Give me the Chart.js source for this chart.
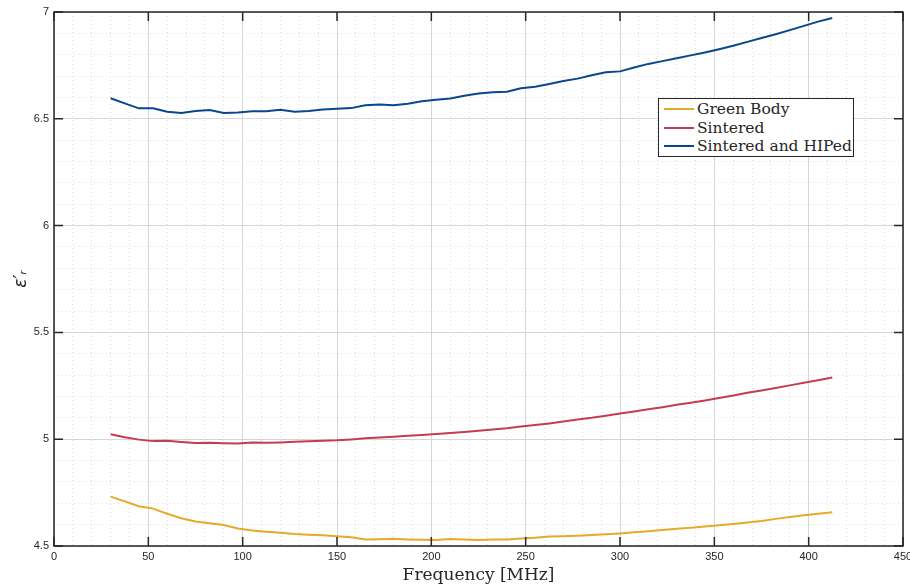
<!DOCTYPE html>
<html>
<head>
<meta charset="utf-8">
<script src="https://cdn.jsdelivr.net/npm/chart.js@4/dist/chart.umd.min.js"></script>
<style>
  body { margin: 0; background: #fff; }
  #wrap { position: relative; width: 910px; height: 586px; }
  #legend {
    position: absolute; left: 658px; top: 98px; width: 196px; height: 59px;
    border: 1px solid #262626; background: #fff; box-sizing: border-box;
    font-family: "DejaVu Serif", serif; font-size: 15.5px; color: #262626;
    padding-top: 1px;
  }
  #legend .row { display: flex; align-items: center; height: 18.5px; }
  #legend .swatch { width: 30px; height: 0; border-top: 2px solid; margin: 0 3px 0 5px; }
</style>
</head>
<body>
<div id="wrap">
  <canvas id="myChart" width="910" height="586"></canvas>
  <div id="legend"></div>
</div>
<script>
// frequency points [MHz]
var freq = [30, 37.5, 45, 52.5, 60, 67.5, 75, 82.5, 90, 97.5, 105, 112.5, 120, 127.5, 135, 142.5,
  150, 157.5, 165, 172.5, 180, 187.5, 195, 202.5, 210, 217.5, 225, 232.5, 240, 247.5, 255, 262.5,
  270, 277.5, 285, 292.5, 300, 307.5, 315, 322.5, 330, 337.5, 345, 352.5, 360, 367.5, 375, 382.5,
  390, 397.5, 405, 412.5];

var greenBody = [4.731, 4.709, 4.686, 4.675, 4.651, 4.630, 4.615, 4.607, 4.598, 4.582, 4.573, 4.567,
  4.562, 4.556, 4.553, 4.550, 4.546, 4.541, 4.531, 4.532, 4.534, 4.531, 4.529, 4.528, 4.533, 4.531,
  4.528, 4.531, 4.530, 4.535, 4.539, 4.544, 4.546, 4.548, 4.551, 4.555, 4.559, 4.564, 4.569, 4.575,
  4.581, 4.586, 4.591, 4.597, 4.603, 4.610, 4.617, 4.627, 4.636, 4.644, 4.651, 4.658];

var sintered = [5.023, 5.009, 4.998, 4.991, 4.993, 4.987, 4.982, 4.983, 4.981, 4.980, 4.984, 4.983,
  4.985, 4.988, 4.990, 4.993, 4.995, 4.999, 5.004, 5.008, 5.012, 5.016, 5.020, 5.024, 5.029, 5.034,
  5.039, 5.045, 5.051, 5.059, 5.066, 5.074, 5.083, 5.092, 5.100, 5.110, 5.120, 5.130, 5.140, 5.150,
  5.161, 5.171, 5.181, 5.193, 5.205, 5.217, 5.228, 5.240, 5.252, 5.264, 5.276, 5.289];

var hiped = [6.596, 6.572, 6.549, 6.549, 6.533, 6.527, 6.537, 6.541, 6.527, 6.529, 6.535, 6.535,
  6.542, 6.533, 6.537, 6.543, 6.547, 6.550, 6.563, 6.567, 6.564, 6.571, 6.582, 6.589, 6.595, 6.608,
  6.618, 6.624, 6.627, 6.643, 6.650, 6.663, 6.677, 6.688, 6.704, 6.718, 6.722, 6.740, 6.757, 6.770,
  6.783, 6.797, 6.810, 6.826, 6.842, 6.860, 6.878, 6.896, 6.915, 6.935, 6.955, 6.972];

var seriesNames = ['Green Body', 'Sintered', 'Sintered and HIPed'];
var seriesColors = ['#E6A92A', '#C43C54', '#0A468C'];
var xMajor = 50, yMajor = 0.5;

function toPoints(ys) {
    return ys.map((y, i) => ({ x: freq[i], y: y }));
}
function isMajor(v, step) {
    var r = v / step;
    return Math.abs(r - Math.round(r)) < 1e-6;
}

// MATLAB-style box with inward ticks
var boxPlugin = {
    id: 'box',
    afterDraw(chart) {
        var c = chart.ctx, a = chart.chartArea;
        var xs = chart.scales.x, ys = chart.scales.y;
        c.save();
        c.strokeStyle = '#262626';
        c.lineWidth = 1.5;
        c.beginPath();
        c.rect(a.left, a.top, a.right - a.left, a.bottom - a.top);
        c.stroke();
        c.beginPath();
        for (var v = 0; v <= 450; v += xMajor) {
            var px = xs.getPixelForValue(v);
            c.moveTo(px, a.bottom); c.lineTo(px, a.bottom - 9);
            c.moveTo(px, a.top); c.lineTo(px, a.top + 9);
        }
        for (var k = 0; k <= 5; k++) {
            var py = ys.getPixelForValue(4.5 + k * yMajor);
            c.moveTo(a.left, py); c.lineTo(a.left + 9, py);
            c.moveTo(a.right, py); c.lineTo(a.right - 9, py);
        }
        c.stroke();
        c.restore();
    }
};

var ctx = document.getElementById('myChart').getContext('2d');
var datasetsList = [greenBody, sintered, hiped].map((ys, i) => ({
    label: seriesNames[i],
    data: toPoints(ys),
    borderColor: seriesColors[i],
    backgroundColor: seriesColors[i],
    borderWidth: 2,
    pointRadius: 0,
    tension: 0
}));

var myChart = new Chart(ctx, {
    type: 'line',
    data: { datasets: datasetsList },
    options: {
        responsive: false,
        animation: false,
        layout: { padding: { top: 12, right: 7, left: 0, bottom: 0 } },
        plugins: { legend: { display: false }, tooltip: { enabled: false } },
        scales: {
            x: {
                type: 'linear', min: 0, max: 450,
                afterFit: s => { s.height = 40; s.paddingLeft = 0; s.paddingRight = 0; },
                ticks: {
                    stepSize: 10, autoSkip: false, maxRotation: 0, padding: 4,
                    color: '#262626', font: { family: 'Liberation Sans', size: 11 },
                    callback: v => isMajor(v, xMajor) ? String(v) : ''
                },
                grid: {
                    drawTicks: false,
                    color: c => c.tick && isMajor(c.tick.value, xMajor) ? '#d6d6d6' : '#dedede',
                    lineWidth: 1
                },
                border: {
                    display: false,
                    dash: c => c.tick && isMajor(c.tick.value, xMajor) ? [] : [1, 3]
                },
                title: {
                    display: true, text: 'Frequency [MHz]', color: '#262626',
                    font: { family: 'DejaVu Serif', size: 17, lineHeight: 1.25 },
                    padding: { top: 0, bottom: 0 }
                }
            },
            y: {
                min: 4.5, max: 7,
                afterFit: s => { s.width = 54; },
                ticks: {
                    stepSize: 0.1, autoSkip: false, padding: 5,
                    color: '#262626', font: { family: 'Liberation Sans', size: 11 },
                    callback: v => isMajor(v, yMajor) ? String(Math.round(v * 10) / 10) : ''
                },
                grid: {
                    drawTicks: false,
                    color: c => c.tick && isMajor(c.tick.value, yMajor) ? '#d6d6d6' : '#dedede',
                    lineWidth: 1
                },
                border: {
                    display: false,
                    dash: c => c.tick && isMajor(c.tick.value, yMajor) ? [] : [1, 3]
                },
                title: {
                    display: true, text: 'ε′ᵣ', color: '#262626',
                    font: { family: 'DejaVu Sans', size: 17, style: 'italic', lineHeight: 1.25 },
                    padding: { top: 11, bottom: 0 }
                }
            }
        }
    },
    plugins: [boxPlugin]
});

// legend inside the axes, built from the datasets
var legendEl = document.getElementById('legend');
myChart.data.datasets.forEach(ds => {
    var row = document.createElement('div');
    row.className = 'row';
    var sw = document.createElement('span');
    sw.className = 'swatch';
    sw.style.borderTopColor = ds.borderColor;
    var tx = document.createElement('span');
    tx.textContent = ds.label;
    row.appendChild(sw);
    row.appendChild(tx);
    legendEl.appendChild(row);
});
</script>
</body>
</html>
